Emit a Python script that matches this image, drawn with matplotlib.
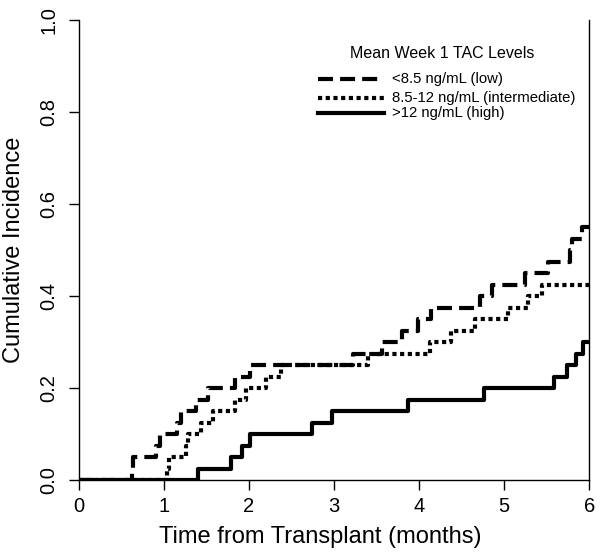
import matplotlib
matplotlib.use('Agg')
import matplotlib.pyplot as plt

plt.rcParams['font.family'] = ['Liberation Sans', 'DejaVu Sans']

# step data (time in months, cumulative incidence)
low_t = [0, 0.62, 0.63, 0.9, 0.95, 1.15, 1.2, 1.38, 1.52, 1.84, 2.01, 3.22, 3.56, 3.8, 3.99,
         4.14, 4.72, 4.86, 5.25, 5.52, 5.78, 5.8, 5.92, 6.0]
low_v = [0, 0.025, 0.05, 0.075, 0.1, 0.125, 0.15, 0.175, 0.2, 0.225, 0.25, 0.275, 0.3, 0.325, 0.35,
         0.375, 0.4, 0.425, 0.45, 0.475, 0.5, 0.525, 0.55, 0.55]

mid_t = [0, 1.04, 1.06, 1.26, 1.28, 1.44, 1.58, 1.84, 1.97, 2.2, 2.38, 3.4, 4.13, 4.37, 4.66,
         5.05, 5.28, 5.45, 6.0]
mid_v = [0, 0.025, 0.05, 0.075, 0.1, 0.125, 0.15, 0.175, 0.2, 0.225, 0.25, 0.275, 0.3, 0.325, 0.35,
         0.375, 0.4, 0.425, 0.425]

high_t = [0, 1.4, 1.79, 1.92, 2.01, 2.74, 2.98, 3.87, 4.76, 5.59, 5.74, 5.85, 5.93, 6.0]
high_v = [0, 0.025, 0.05, 0.075, 0.1, 0.125, 0.15, 0.175, 0.2, 0.225, 0.25, 0.275, 0.3, 0.3]

labels = ['<8.5 ng/mL (low)', '8.5-12 ng/mL (intermediate)', '>12 ng/mL (high)']
legend_title = 'Mean Week 1 TAC Levels'

lw = 3.0
dashed = (0, (3.6, 1.7))
dotted = (0, (1.0, 0.85))
styles = [dashed, dotted, '-']

fig = plt.figure(figsize=(6.03, 5.57), dpi=100)
ax = fig.add_axes([0.131, 0.138, 0.846, 0.826])

ax.step(low_t, low_v, where='post', color='black', lw=lw, linestyle=dashed, dash_capstyle='butt')
ax.step(mid_t, mid_v, where='post', color='black', lw=lw, linestyle=dotted, dash_capstyle='butt')
ax.step(high_t, high_v, where='post', color='black', lw=lw, linestyle='-')

ax.set_xlim(0, 6)
ax.set_ylim(0, 1)
ax.set_xticks(range(0, 7))
ax.set_yticks([0.0, 0.2, 0.4, 0.6, 0.8, 1.0])
ax.set_yticklabels(['0.0', '0.2', '0.4', '0.6', '0.8', '1.0'], rotation=90, va='center')
ax.tick_params(direction='out', length=7, width=1, labelsize=14.5, colors='black')
ax.tick_params(axis='x', pad=5)
ax.tick_params(axis='y', pad=8)
ax.spines['top'].set_visible(False)
for s in ['left', 'right', 'bottom']:
    ax.spines[s].set_linewidth(1)

ax.set_xlabel('Time from Transplant (months)', fontsize=17)
ax.xaxis.set_label_coords(0.473, -0.1)
ax.set_ylabel('Cumulative Incidence', fontsize=17)
ax.yaxis.set_label_coords(-0.105, 0.5)

# legend, hand placed like the R original
ax.text(0.712, 0.928, legend_title, transform=ax.transAxes, ha='center', va='center', fontsize=11.5)
leg_y = [0.872, 0.830, 0.798]
for ls, lab, yy in zip(styles, labels, leg_y):
    ax.plot([0.469, 0.597], [yy, yy], transform=ax.transAxes, color='black', lw=lw,
            linestyle=ls, dash_capstyle='butt', clip_on=False)
    ax.text(0.614, yy, lab, transform=ax.transAxes, ha='left', va='center', fontsize=10.7)

plt.savefig('out.png', dpi=100)
plt.close('all')
